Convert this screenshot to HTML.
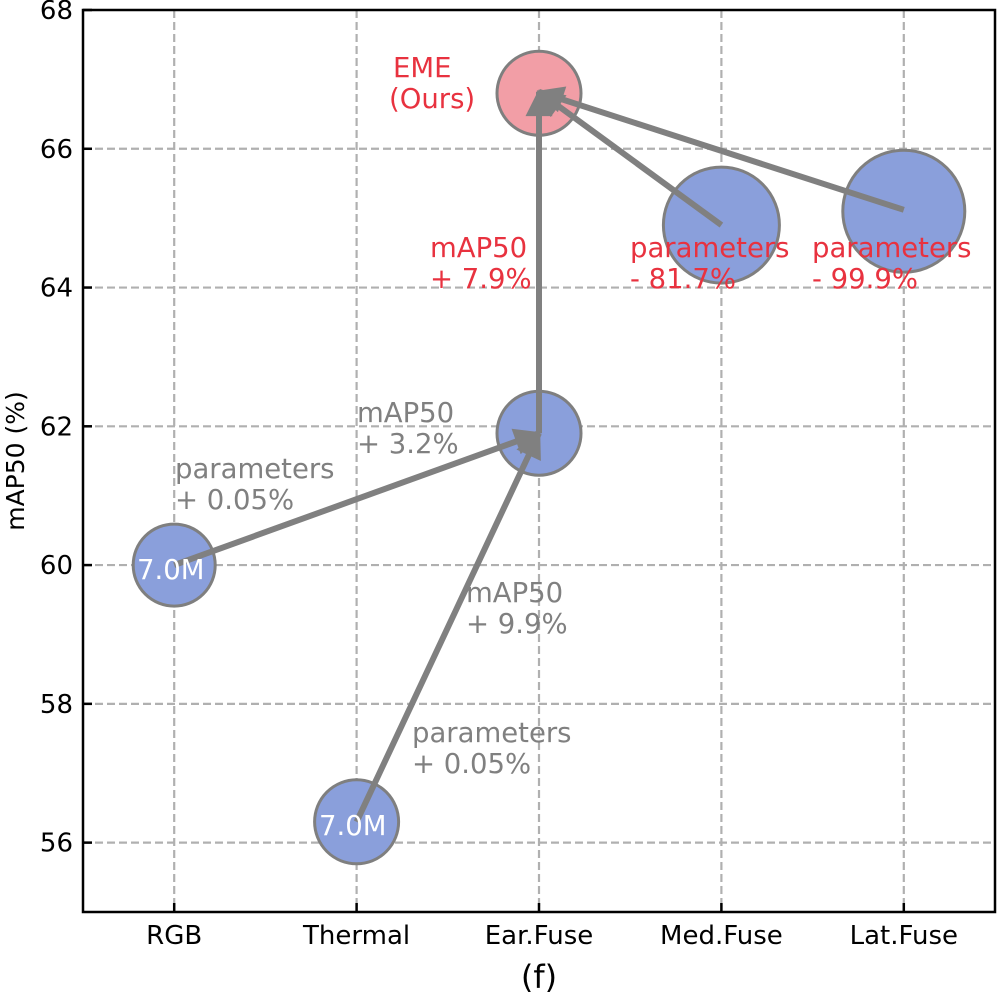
<!DOCTYPE html>
<html><head><meta charset="utf-8"><style>
body{margin:0;background:#fff}
svg text{font-family:"DejaVu Sans","Liberation Sans",sans-serif}
</style></head><body>
<svg id="chart" width="1000" height="1000" viewBox="0 0 1000 1000" xmlns="http://www.w3.org/2000/svg">
<defs><marker id="ah" viewBox="0 0 10 10" refX="9" refY="5" markerWidth="5" markerHeight="4.5" orient="auto" markerUnits="strokeWidth"><path d="M0,0 L10,5 L0,10 z" fill="#808080"/></marker></defs>
<g id="grid"></g>
<g id="bubbles"></g>
<g id="arrows"></g>
<g id="axes"></g>
<g id="labels"></g>
</svg>
<script>
const categories=["RGB","Thermal","Ear.Fuse","Med.Fuse","Lat.Fuse"];
const yTicks=[56,58,60,62,64,66,68];
const bubbleX=[0,1,2,2,3,4];
const bubbleY=[60,56.3,61.9,66.8,64.9,65.1];
const bubbleR=[41,42,42,42,58,61];
const bubbleColor=["#8a9fdb","#8a9fdb","#8a9fdb","#f29ea6","#8a9fdb","#8a9fdb"];
const bubbleNames=["bubble-rgb","bubble-thermal","bubble-ear-fuse","bubble-eme","bubble-med-fuse","bubble-lat-fuse"];
const arrowFrom=[[0,60],[1,56.3],[2,61.9],[3,64.9],[4,65.12]];
const arrowTo=[[2,61.9],[2,61.9],[2,66.82],[2,66.82],[2,66.82]];
const L=83,R=995,T=10,B=912,yMin=55,yMax=68;
const X=i=>L+(i+0.5)*(R-L)/5;
const Y=v=>T+(yMax-v)*(B-T)/(yMax-yMin);
const NS="http://www.w3.org/2000/svg";
function mk(tag,attrs,parent){const e=document.createElementNS(NS,tag);for(const k in attrs)e.setAttribute(k,attrs[k]);document.getElementById(parent).appendChild(e);return e;}
yTicks.forEach(v=>{if(v>=yMax)return;const l=mk('line',{x1:L,x2:R,y1:Y(v),y2:Y(v),stroke:'#b0b0b0','stroke-width':2.2,'stroke-dasharray':'8,4'},'grid');

});
categories.forEach((c,i)=>{const l=mk('line',{x1:X(i),x2:X(i),y1:T,y2:B,stroke:'#b0b0b0','stroke-width':2.2,'stroke-dasharray':'8,4'},'grid');

});
bubbleX.forEach((x,i)=>{const c=mk('circle',{cx:X(x),cy:Y(bubbleY[i]),r:bubbleR[i],fill:bubbleColor[i],stroke:'#7f7f7f','stroke-width':3},'bubbles');

});
arrowFrom.forEach((f,i)=>{const t=arrowTo[i];const a=mk('line',{x1:X(f[0]),y1:Y(f[1]),x2:X(t[0]),y2:Y(t[1]),stroke:'#808080','stroke-width':6,'marker-end':'url(#ah)'},'arrows');

});
const fr=mk('rect',{x:L,y:T,width:R-L,height:B-T,fill:'none',stroke:'#000','stroke-width':2.5},'axes');


yTicks.forEach(v=>{const t=mk('line',{x1:L,x2:L+9,y1:Y(v),y2:Y(v),stroke:'#000','stroke-width':2.5},'axes');


const s=mk('text',{x:L-10,y:Y(v)+9,'text-anchor':'end','font-size':26},'axes');s.textContent=v;

});
categories.forEach((c,i)=>{const t=mk('line',{x1:X(i),x2:X(i),y1:B,y2:B-9,stroke:'#000','stroke-width':2.5},'axes');


const s=mk('text',{x:X(i),y:B+32,'text-anchor':'middle','font-size':26},'axes');s.textContent=c;

});
const yl=mk('text',{x:0,y:0,'text-anchor':'middle','font-size':25,transform:`translate(24,${Y(61.5)}) rotate(-90)`},'axes');yl.textContent='mAP50 (%)';


const xl=mk('text',{x:(L+R)/2,y:988,'text-anchor':'middle','font-size':32},'axes');xl.textContent='(f)';


const notes=[
 ["7.0M",137,579,'#fff','label-rgb-params'],["7.0M",319,835,'#fff','label-thermal-params'],
 ["EME",393,77,'#e8323f','label-eme'],["(Ours)",389,108,'#e8323f','label-ours'],
 ["mAP50",430,257,'#e8323f','label-ear-map'],["+ 7.9%",430,288,'#e8323f','label-ear-gain'],
 ["parameters",630,257,'#e8323f','label-med-params'],["- 81.7%",630,288,'#e8323f','label-med-drop'],
 ["parameters",812,257,'#e8323f','label-lat-params'],["- 99.9%",812,288,'#e8323f','label-lat-drop'],
 ["mAP50",357,422,'#808080','label-rgb-map'],["+ 3.2%",357,453,'#808080','label-rgb-gain'],
 ["parameters",175,478,'#808080','label-rgb-param'],["+ 0.05%",175,509,'#808080','label-rgb-param-gain'],
 ["mAP50",466,602,'#808080','label-th-map'],["+ 9.9%",466,633,'#808080','label-th-gain'],
 ["parameters",412,742,'#808080','label-th-param'],["+ 0.05%",412,773,'#808080','label-th-param-gain']];
notes.forEach(n=>{const s=mk('text',{x:n[1],y:n[2],fill:n[3],'font-size':27.5},'labels');s.textContent=n[0];

});
</script>
</body></html>
